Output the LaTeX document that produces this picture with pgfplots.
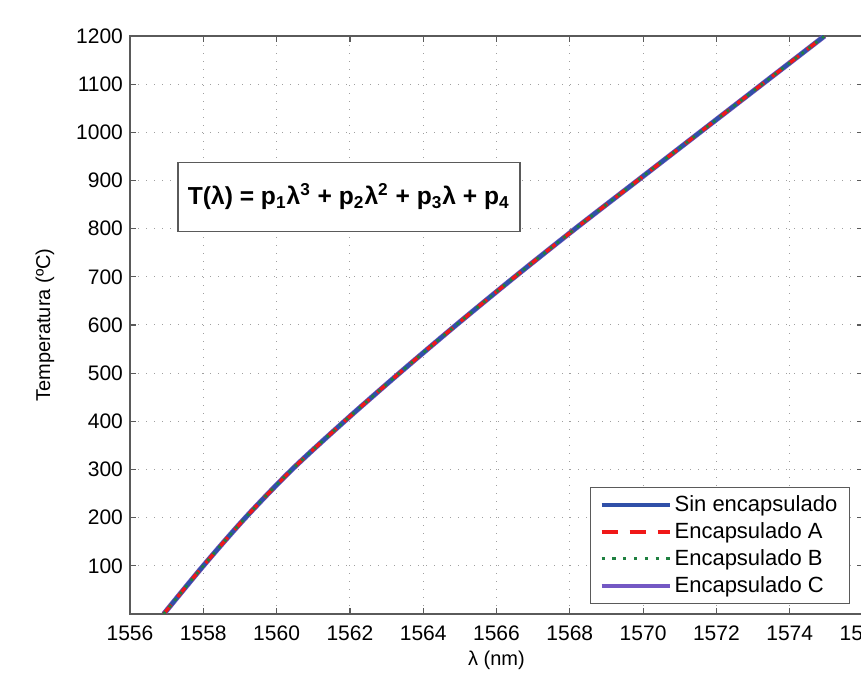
\documentclass[border=0pt]{standalone}
\usepackage{pgfplots}
\pgfplotsset{compat=1.18}
\usepackage{pgfplotstable}
\usepackage{fontspec}
\setmainfont{Liberation Sans}

\definecolor{c-sin}{HTML}{3050A8}
\definecolor{c-a}{HTML}{F01818}
\definecolor{c-b}{HTML}{1F8040}
\definecolor{c-c}{HTML}{7458C4}
\definecolor{axgray}{HTML}{5A5A5A}

% lambda (nm) vs temperature
\pgfplotstableread{
lambda   T
1556.92  0
1558.00  100
1559.15  200
1560.42  300
1561.85  400
1563.35  500
1564.90  600
1566.50  700
1568.15  800
1569.85  900
1571.55  1000
1573.25  1100
1574.95  1200
}\curvedata

\begin{document}
\begin{tikzpicture}
\begin{axis}[
    name=ax,
    scale only axis,
    width=366.5pt, height=289pt,
    xmin=1556, xmax=1576,
    ymin=0, ymax=1200,
    xtick={1556,1558,...,1576},
    ytick={100,200,...,1200},
    /pgf/number format/1000 sep={},
    /pgf/number format/assume math mode=true,
    tick label style={font=\fontsize{10.5}{12}\selectfont},
    xticklabel style={yshift=-2.5pt},
    tick align=inside,
    tick pos=both,
    major tick length=3pt,
    tick style={axgray, line width=0.6pt},
    axis line style={axgray, line width=0.7pt},
    grid=major,
    major grid style={gray!75, line width=0.5pt, dash pattern=on 0.6pt off 3.4pt},
    xlabel={λ (nm)},
    ylabel={Temperatura (ºC)},
    label style={font=\fontsize{10.5}{12}\selectfont},
    every axis x label/.style={at={(axis description cs:0.5,-0.0796)}, anchor=center},
    every axis y label/.style={at={(axis description cs:-0.116,0.5)}, rotate=90, anchor=center},
    legend image code/.code={\draw[#1] (0pt,0pt) -- (34pt,0pt);},
    legend cell align=left,
    legend style={at={(1,0)}, anchor=south east, xshift=-6.5pt, yshift=5pt,
        draw=axgray, line width=0.7pt, font=\fontsize{11}{13.5}\selectfont,
        inner xsep=4.5pt, inner ysep=2pt, row sep=0pt,
        nodes={inner xsep=1.5pt}},
]
% curves drawn in the order that shows them as in the figure
\addplot[forget plot, c-c, line width=2.6pt, smooth] table[x=lambda, y=T] {\curvedata};
\addplot[forget plot, c-sin, line width=2pt, smooth] table[x=lambda, y=T] {\curvedata};
\addplot[forget plot, c-a, line width=1.7pt, dash pattern=on 6pt off 5pt, smooth] table[x=lambda, y=T] {\curvedata};
\addplot[forget plot, c-b, line width=1.4pt, dash pattern=on 1.3pt off 3pt, smooth] table[x=lambda, y=T] {\curvedata};

\addlegendimage{c-sin, line width=2pt}
\addlegendentry{Sin encapsulado}
\addlegendimage{c-a, line width=2pt, dash pattern=on 8pt off 6pt}
\addlegendentry{Encapsulado A}
\addlegendimage{c-b, line width=1.6pt, dash pattern=on 1.6pt off 3.8pt}
\addlegendentry{Encapsulado B}
\addlegendimage{c-c, line width=2pt}
\addlegendentry{Encapsulado C}

\node[draw=axgray, line width=0.7pt, fill=white, minimum width=171pt, minimum height=34.5pt,
      font=\fontsize{12.3}{14}\selectfont\bfseries]
  at (axis cs:1561.97,866) {T(λ) = p\textsubscript{1}λ\textsuperscript{3} + p\textsubscript{2}λ\textsuperscript{2} + p\textsubscript{3}λ + p\textsubscript{4}};
\end{axis}
\pgfresetboundingbox
\path[use as bounding box] ([xshift=-65pt,yshift=-29.5pt]ax.south west) rectangle ([xshift=-1pt,yshift=18pt]ax.north east);
\end{tikzpicture}
\end{document}
